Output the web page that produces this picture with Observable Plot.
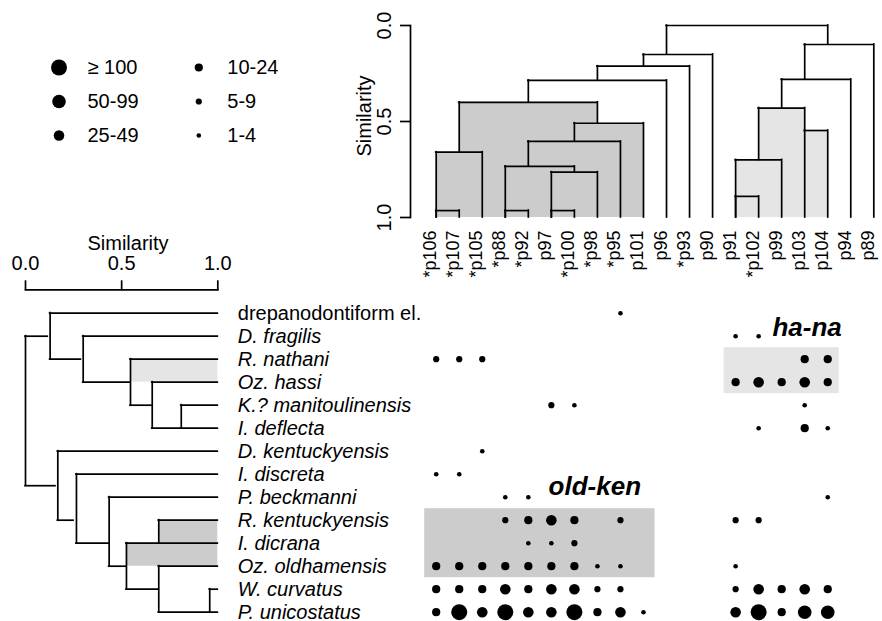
<!DOCTYPE html>
<html>
<head>
<meta charset="utf-8">
<script src="https://cdn.jsdelivr.net/npm/d3@7"></script>
<script src="https://cdn.jsdelivr.net/npm/@observablehq/plot@0.6"></script>
<style>
html, body { margin: 0; padding: 0; background: #fff; }
#chart { position: relative; width: 882px; height: 621px; overflow: hidden; }
#chart svg { position: absolute; left: 0; top: 0; }
</style>
</head>
<body>
<div id="chart"></div>
<script>
// ---------------- DATA ----------------
const samples = ["*p106","*p107","*p105","*p88","*p92","p97","*p100","*p98","*p95","p101",
                 "p96","*p93","p90","p91","*p102","p99","p103","p104","p94","p89"];

const species = ["drepanodontiform el.","D. fragilis","R. nathani","Oz. hassi","K.? manitoulinensis",
                 "I. deflecta","D. kentuckyensis","I. discreta","P. beckmanni","R. kentuckyensis",
                 "I. dicrana","Oz. oldhamensis","W. curvatus","P. unicostatus"];
const speciesItalic = [false,true,true,true,true,true,true,true,true,true,true,true,true,true];

// abundance classes: 0 absent, 1 "1-4", 2 "5-9", 3 "10-24", 4 "25-49", 5 "50-99", 6 ">=100"
const sizeClasses = ["1-4","5-9","10-24","25-49","50-99","\u2265 100"];
const abundance = [
  [0,0,0,0,0,0,0,0,1,0, 0,0,0,0,0,0,0,0,0,0],
  [0,0,0,0,0,0,0,0,0,0, 0,0,0,1,1,0,0,0,0,0],
  [2,2,2,0,0,0,0,0,0,0, 0,0,0,0,0,0,3,3,0,0],
  [0,0,0,0,0,0,0,0,0,0, 0,0,0,3,4,3,4,3,0,0],
  [0,0,0,0,0,2,1,0,0,0, 0,0,0,0,0,0,1,0,0,0],
  [0,0,0,0,0,0,0,0,0,0, 0,0,0,0,1,0,3,1,0,0],
  [0,0,1,0,0,0,0,0,0,0, 0,0,0,0,0,0,0,0,0,0],
  [1,1,0,0,0,0,0,0,0,0, 0,0,0,0,0,0,0,0,0,0],
  [0,0,0,1,1,0,0,0,0,0, 0,0,0,0,0,0,0,1,0,0],
  [0,0,0,2,3,4,3,0,2,0, 0,0,0,2,2,0,0,0,0,0],
  [0,0,0,0,1,1,2,0,0,0, 0,0,0,0,0,0,0,0,0,0],
  [3,3,3,3,3,3,3,1,1,0, 0,0,0,1,0,0,0,0,0,0],
  [3,3,3,4,3,4,4,2,2,0, 0,0,0,2,4,3,4,3,0,0],
  [3,6,4,6,4,4,6,3,4,1, 0,0,0,4,6,3,5,5,0,0]
];

// sample dendrogram (x in sample-column index, h/e in similarity)
const sampleTree = [
  {h:0.964, x1:0,  x2:1,  e1:1,     e2:1,     shade:"dark"},
  {h:0.660, x1:0,  x2:2,  e1:1,     e2:1,     shade:"dark"},
  {h:0.400, x1:1,  x2:7,  e1:0.660, e2:0.509, shade:"dark"},
  {h:0.509, x1:6,  x2:9,  e1:0.604, e2:1,     shade:"dark"},
  {h:0.604, x1:4,  x2:8,  e1:0.734, e2:1,     shade:"dark"},
  {h:0.734, x1:3,  x2:6,  e1:1,     e2:0.764, shade:"dark"},
  {h:0.964, x1:3,  x2:4,  e1:1,     e2:1,     shade:"dark"},
  {h:0.764, x1:5,  x2:7,  e1:1,     e2:1,     shade:"dark"},
  {h:0.964, x1:5,  x2:6,  e1:1,     e2:1,     shade:"dark"},
  {h:0.286, x1:4,  x2:10, e1:0.400, e2:1},
  {h:0.212, x1:7,  x2:11, e1:0.286, e2:1},
  {h:0.151, x1:9,  x2:12, e1:0.212, e2:1},
  {h:0.000, x1:10, x2:17, e1:0.151, e2:0.099},
  {h:0.099, x1:16, x2:19, e1:0.281, e2:1},
  {h:0.281, x1:15, x2:18, e1:0.430, e2:1},
  {h:0.430, x1:14, x2:16, e1:0.700, e2:0.547, shade:"light"},
  {h:0.547, x1:16, x2:17, e1:1,     e2:1,     shade:"light"},
  {h:0.700, x1:13, x2:15, e1:1,     e2:1,     shade:"light"},
  {h:0.890, x1:13, x2:14, e1:1,     e2:1,     shade:"light"}
];

// species dendrogram: vertical joins (similarity h, species rows r1..r2)
const speciesJoins = [
  {h:0.000, r1:1,  r2:7.5},
  {h:0.128, r1:0,  r2:2},
  {h:0.300, r1:1,  r2:3},
  {h:0.546, r1:2,  r2:4},
  {h:0.659, r1:3,  r2:5},
  {h:0.810, r1:4,  r2:5},
  {h:0.168, r1:6,  r2:9},
  {h:0.265, r1:7,  r2:10},
  {h:0.435, r1:8,  r2:11},
  {h:0.525, r1:10, r2:12},
  {h:0.693, r1:9,  r2:10},
  {h:0.693, r1:11, r2:13},
  {h:0.958, r1:12, r2:13}
];
// species dendrogram: horizontal branches (row, from similarity, to similarity)
const speciesBranches = [
  {row:0,   s1:0.128, s2:1},
  {row:1,   s1:0.000, s2:0.116},
  {row:1,   s1:0.300, s2:1},
  {row:2,   s1:0.128, s2:0.288},
  {row:2,   s1:0.546, s2:1},
  {row:3,   s1:0.300, s2:0.546},
  {row:3,   s1:0.659, s2:1},
  {row:4,   s1:0.546, s2:0.659},
  {row:4,   s1:0.810, s2:1},
  {row:5,   s1:0.659, s2:1},
  {row:6,   s1:0.168, s2:1},
  {row:7,   s1:0.265, s2:1},
  {row:7.5, s1:0.000, s2:0.156},
  {row:8,   s1:0.435, s2:1},
  {row:9,   s1:0.168, s2:0.250},
  {row:9,   s1:0.693, s2:1},
  {row:10,  s1:0.265, s2:0.435},
  {row:10,  s1:0.525, s2:1},
  {row:11,  s1:0.435, s2:0.525},
  {row:11,  s1:0.693, s2:1},
  {row:12,  s1:0.525, s2:0.693},
  {row:12,  s1:0.958, s2:1},
  {row:13,  s1:0.693, s2:1}
];
const speciesShade = [
  {s:0.546, r1:2,  r2:3,  shade:"light"},
  {s:0.693, r1:9,  r2:10, shade:"dark"},
  {s:0.525, r1:10, r2:11, shade:"dark"}
];

// assemblage groups in the matrix
const groups = [
  {name:"ha-na",   c1:13, c2:17, r1:2, r2:3,  shade:"light", labelCol:14.6, labelRow:0.97},
  {name:"old-ken", c1:0,  c2:9,  r1:9, r2:11, shade:"dark",  labelCol:4.88, labelRow:7.9}
];

// ---------------- STYLE / SCALES ----------------
const DARK = "#cccccc", LIGHT = "#e5e5e5";
const shadeColor = s => s === "dark" ? DARK : LIGHT;
const FONT = '"Liberation Sans", Arial, Helvetica, sans-serif';
const plotStyle = {fontFamily: FONT, fontSize: "20px", background: "transparent", overflow: "visible", color: "black"};
const LW = 1.7;
const W = 882, H = 621;
const colRange = [435.7, 873.3];
const rowRange = [312.7, 611.7];
const rScale = {type: "linear", domain: [1,2,3,4,5,6], range: [2.3, 3.1, 4.1, 5.3, 6.8, 8.0]};
const lineOpts = {stroke: "black", strokeWidth: LW, strokeLinecap: "square"};

const chartDiv = document.getElementById("chart");

// ---------------- TOP: sample dendrogram ----------------
const sampleVerticals = sampleTree.flatMap(n => [
  {x: n.x1, y1: n.h, y2: n.e1},
  {x: n.x2, y1: n.h, y2: n.e2}
]);
const samplePlot = Plot.plot({
  width: W, height: H,
  marginLeft: 410, marginRight: W - colRange[1], marginTop: 25, marginBottom: H - 217,
  style: plotStyle,
  x: {domain: [0, 19], range: colRange, axis: null},
  y: {domain: [0, 1], range: [25, 217], axis: null},
  marks: [
    Plot.rect(sampleTree.filter(n => n.shade), {x1: "x1", x2: "x2", y1: "h", y2: () => 1, fill: d => shadeColor(d.shade)}),
    Plot.ruleY(sampleTree, {y: "h", x1: "x1", x2: "x2", ...lineOpts}),
    Plot.ruleX(sampleVerticals, {x: "x", y1: "y1", y2: "y2", ...lineOpts}),
    Plot.frame({anchor: "left", stroke: "black", strokeWidth: LW}),
    Plot.axisY({ticks: [0, 0.5, 1], tickFormat: d => d.toFixed(1), tickSize: 10, tickPadding: 10,
                tickRotate: -90, label: null, strokeWidth: LW}),
    Plot.text(["Similarity"], {text: d => d, frameAnchor: "left", rotate: -90, textAnchor: "middle",
                               lineAnchor: "bottom", dx: -40, dy: -5.5}),
    Plot.text(samples, {x: (d, i) => i, text: d => d, frameAnchor: "bottom", rotate: -90,
                        textAnchor: "end", dy: 13, fontSize: 18})
  ]
});
chartDiv.appendChild(samplePlot);

// ---------------- LEFT: species dendrogram ----------------
const speciesData = species.map((name, i) => ({name, row: i, italic: speciesItalic[i]}));
const speciesPlot = Plot.plot({
  width: W, height: H,
  marginLeft: 25, marginRight: W - 217.3, marginTop: 289.3, marginBottom: 5,
  style: plotStyle,
  x: {domain: [0, 1], axis: null},
  y: {domain: [0, 13], range: rowRange, axis: null},
  marks: [
    Plot.rect(speciesShade, {x1: "s", x2: () => 1, y1: "r1", y2: "r2", fill: d => shadeColor(d.shade)}),
    Plot.ruleY(speciesBranches, {y: "row", x1: "s1", x2: "s2", ...lineOpts}),
    Plot.ruleX(speciesJoins, {x: "h", y1: "r1", y2: "r2", ...lineOpts}),
    Plot.frame({anchor: "top", stroke: "black", strokeWidth: LW}),
    Plot.axisX({anchor: "top", ticks: [0, 0.5, 1], tickFormat: d => d.toFixed(1), tickSize: 10,
                tickPadding: 10, label: null, strokeWidth: LW}),
    Plot.text(["Similarity"], {text: d => d, frameAnchor: "top", lineAnchor: "bottom", dx: 6.4, dy: -40}),
    Plot.text(speciesData.filter(d => d.italic), {x: () => 1, y: "row", text: "name", dx: 20,
                                                 textAnchor: "start", fontStyle: "italic"}),
    Plot.text(speciesData.filter(d => !d.italic), {x: () => 1, y: "row", text: "name", dx: 20,
                                                  textAnchor: "start"})
  ]
});
chartDiv.appendChild(speciesPlot);

// ---------------- MATRIX ----------------
const cells = [];
abundance.forEach((rowVals, r) => rowVals.forEach((cls, c) => {
  if (cls > 0) cells.push({species: species[r], sample: samples[c], row: r, col: c, cls});
}));
const matrixPlot = Plot.plot({
  width: W, height: H, margin: 0,
  style: plotStyle,
  x: {domain: [0, 19], range: colRange, axis: null},
  y: {domain: [0, 13], range: rowRange, axis: null},
  r: rScale,
  marks: [
    Plot.rect(groups, {x1: d => d.c1 - 0.5, x2: d => d.c2 + 0.5, y1: d => d.r1 - 0.5, y2: d => d.r2 + 0.5,
                       fill: d => shadeColor(d.shade)}),
    Plot.dot(cells, {x: "col", y: "row", r: "cls", fill: "black", stroke: "none"}),
    Plot.text(groups, {x: "labelCol", y: "labelRow", text: "name", textAnchor: "start", lineAnchor: "bottom",
                       fontSize: 26, fontWeight: "bold", fontStyle: "italic"})
  ]
});
chartDiv.appendChild(matrixPlot);

// ---------------- LEGEND ----------------
const legendItems = [6,5,4,3,2,1].map((cls, i) => ({cls, label: sizeClasses[cls - 1], col: Math.floor(i / 3), row: i % 3}));
const legendPlot = Plot.plot({
  width: W, height: H, margin: 0,
  style: plotStyle,
  x: {domain: [0, 1], range: [58.5, 198.3], axis: null},
  y: {domain: [0, 2], range: [67, 135], axis: null},
  r: rScale,
  marks: [
    Plot.dot(legendItems, {x: "col", y: "row", r: "cls", fill: "black", stroke: "none"}),
    Plot.text(legendItems, {x: "col", y: "row", text: "label", dx: 28.5, textAnchor: "start"})
  ]
});
chartDiv.appendChild(legendPlot);
</script>
</body>
</html>
